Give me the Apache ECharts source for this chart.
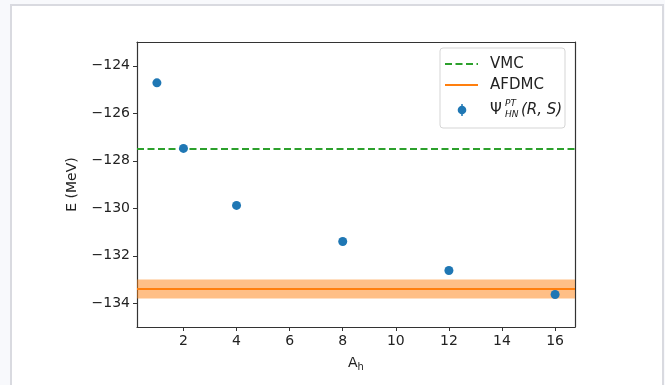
<!DOCTYPE html>
<html>
<head>
<meta charset="utf-8">
<script src="https://cdn.jsdelivr.net/npm/echarts@6/dist/echarts.min.js"></script>
<style>
  html, body { margin: 0; padding: 0; background: #f8f9fc; }
  #chart { width: 665px; height: 385px; }
</style>
</head>
<body>
<div id="chart"></div>
<script>
// ---- data ----
const ahValues = [1, 2, 4, 8, 12, 16];
const energyValues = [-124.72, -127.48, -129.88, -131.40, -132.62, -133.63];
const vmcEnergy = -127.5;
const afdmcEnergy = -133.4;
const afdmcError = 0.4;
const xTickValues = [2, 4, 6, 8, 10, 12, 14, 16];
const yTickValues = [-134, -132, -130, -128, -126, -124];
const xRange = [0.25, 16.75];
const yRange = [-135, -123];

const FONT = 'DejaVu Sans';
const TXT = '#222222';
const AXC = '#333333';
const TICKFS = 14;
const LEGFS = 15;
const fmtMinus = v => String(v).replace('-', '\u2212');

const chart = echarts.init(document.getElementById('chart'), null, { renderer: 'canvas' });

const boxAxis = (type, pos, range) => ({
  type: 'value', position: pos, min: range[0], max: range[1],
  axisLine: { show: true, onZero: false, lineStyle: { color: AXC, width: 1.2 } },
  axisTick: { show: false }, axisLabel: { show: false }, splitLine: { show: false }
});

const option = {
  backgroundColor: 'transparent',
  animation: false,
  grid: { left: 137, right: 90, top: 42, bottom: 58, show: false },
  xAxis: [{
    type: 'value',
    min: xRange[0], max: xRange[1],
    name: '{a|A}{s|h}',
    nameLocation: 'middle',
    nameGap: 28,
    nameTextStyle: {
      rich: {
        a: { fontFamily: FONT, fontSize: 14, color: TXT },
        s: { fontFamily: FONT, fontSize: 10, color: TXT, padding: [7, 0, 0, 0] }
      }
    },
    axisLine: { show: true, onZero: false, lineStyle: { color: AXC, width: 1.2 } },
    axisTick: { show: true, length: 4, lineStyle: { color: AXC }, customValues: xTickValues },
    axisLabel: { fontFamily: FONT, fontSize: TICKFS, color: TXT, margin: 7, customValues: xTickValues },
    splitLine: { show: false }
  }, boxAxis('x', 'top', xRange)],
  yAxis: [{
    type: 'value',
    min: yRange[0], max: yRange[1],
    name: 'E (MeV)',
    nameLocation: 'middle',
    nameGap: 58,
    nameRotate: 90,
    nameTextStyle: { fontFamily: FONT, fontSize: 14, color: TXT },
    axisLine: { show: true, onZero: false, lineStyle: { color: AXC, width: 1.2 } },
    axisTick: { show: true, length: 4, lineStyle: { color: AXC }, customValues: yTickValues },
    axisLabel: { fontFamily: FONT, fontSize: TICKFS, color: TXT, margin: 7, customValues: yTickValues, formatter: fmtMinus },
    splitLine: { show: false }
  }, boxAxis('y', 'right', yRange)],
  graphic: [
    { type: 'rect', z: -10, silent: true,
      shape: { x: 11, y: 5, width: 652, height: 420 },
      style: { fill: '#ffffff', stroke: '#d9dae0', lineWidth: 2 } },
    { type: 'group', z: 100, children: [
      { type: 'rect', shape: { x: 440, y: 48, width: 125, height: 80, r: 3 },
        style: { fill: 'rgba(255,255,255,0.85)', stroke: '#d5d5d5', lineWidth: 1 } },
      { type: 'line', shape: { x1: 445, y1: 64, x2: 478, y2: 64 },
        style: { stroke: '#2ca02c', lineWidth: 2.2, lineDash: [7, 3.5] } },
      { type: 'text', x: 490, y: 64, style: { text: 'VMC', fontFamily: FONT, fontSize: LEGFS, fill: TXT, verticalAlign: 'middle' } },
      { type: 'line', shape: { x1: 445, y1: 85, x2: 478, y2: 85 },
        style: { stroke: '#ff7f0e', lineWidth: 2.2 } },
      { type: 'text', x: 490, y: 85, style: { text: 'AFDMC', fontFamily: FONT, fontSize: LEGFS, fill: TXT, verticalAlign: 'middle' } },
      { type: 'line', shape: { x1: 462, y1: 104, x2: 462, y2: 116 },
        style: { stroke: '#1f77b4', lineWidth: 1.5 } },
      { type: 'circle', shape: { cx: 462, cy: 110, r: 4.3 }, style: { fill: '#1f77b4' } },
      { type: 'text', x: 490, y: 110, style: { text: '\u03A8', fontFamily: FONT, fontSize: LEGFS, fill: TXT, verticalAlign: 'middle' } },
      { type: 'text', x: 505, y: 104, style: { text: 'PT', fontFamily: FONT, fontSize: 9, fontStyle: 'italic', fill: TXT, verticalAlign: 'middle' } },
      { type: 'text', x: 505, y: 115, style: { text: 'HN', fontFamily: FONT, fontSize: 9, fontStyle: 'italic', fill: TXT, verticalAlign: 'middle' } },
      { type: 'text', x: 521, y: 110, style: { text: '(R, S)', fontFamily: FONT, fontSize: LEGFS, fontStyle: 'italic', fill: TXT, verticalAlign: 'middle' } }
    ]}
  ],
  series: [
    {
      type: 'line',
      name: 'VMC',
      data: [],
      silent: true,
      markLine: {
        silent: true, symbol: 'none', animation: false,
        label: { show: false },
        lineStyle: { color: '#2ca02c', width: 2.2, type: [7, 3.5] },
        data: [{ yAxis: vmcEnergy }]
      },
      markArea: {
        silent: true,
        itemStyle: { color: 'rgba(255,127,14,0.5)' },
        data: [[{ yAxis: afdmcEnergy - afdmcError }, { yAxis: afdmcEnergy + afdmcError }]]
      }
    },
    {
      type: 'line',
      name: 'AFDMC',
      data: [],
      silent: true,
      markLine: {
        silent: true, symbol: 'none', animation: false,
        label: { show: false },
        lineStyle: { color: '#ff7f0e', width: 2.2, type: 'solid' },
        data: [{ yAxis: afdmcEnergy }]
      }
    },
    {
      type: 'scatter',
      name: 'psi',
      symbol: 'circle',
      symbolSize: 9,
      itemStyle: { color: '#1f77b4', opacity: 1 },
      z: 5,
      data: ahValues.map((x, i) => [x, energyValues[i]])
    }
  ]
};
chart.setOption(option);
</script>
</body>
</html>
